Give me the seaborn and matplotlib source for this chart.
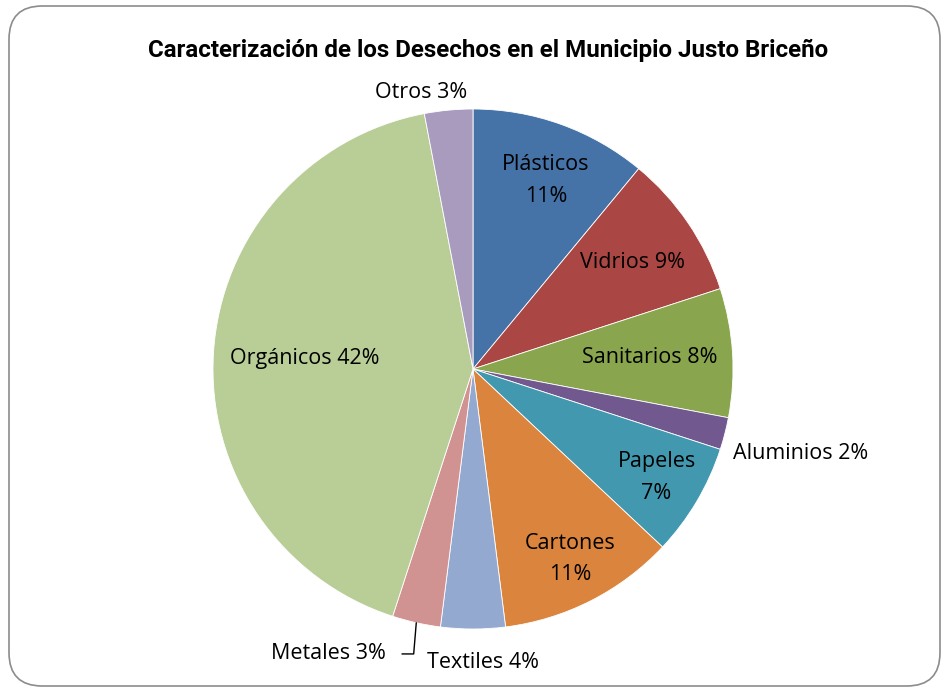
import numpy as np
import matplotlib
matplotlib.use('Agg')
import matplotlib.pyplot as plt
from matplotlib.patches import FancyBboxPatch
import seaborn as sns

# data
categories = ['Plásticos', 'Vidrios', 'Sanitarios', 'Aluminios', 'Papeles',
              'Cartones', 'Textiles', 'Metales', 'Orgánicos', 'Otros']
percent = [11, 9, 8, 2, 7, 11, 4, 3, 42, 3]
colors = ['#4572A7', '#AA4643', '#89A54E', '#71588F', '#4198AF',
          '#DB843D', '#93A9CF', '#D19392', '#B9CD96', '#A99BBD']

sns.set_theme(style='white')
plt.rcParams['font.family'] = ['Open Sans', 'DejaVu Sans']

fig = plt.figure(figsize=(9.5, 6.95), dpi=100)
fig.patch.set_facecolor('white')

# rounded frame
frame = FancyBboxPatch((9 / 950, 9 / 695), 931 / 950, 680 / 695,
                       boxstyle='round,pad=0,rounding_size=0.035',
                       transform=fig.transFigure, facecolor='none',
                       edgecolor='#8c8c8c', linewidth=1.2, mutation_aspect=950 / 695,
                       zorder=-1)
fig.patches.append(frame)

ax = fig.add_axes([213 / 950, 66 / 695, 520 / 950, 520 / 695])
ax.set_facecolor('none')
wedges, _ = ax.pie(percent, colors=sns.color_palette(colors), startangle=90,
                   counterclock=False, radius=1,
                   wedgeprops=dict(edgecolor='white', linewidth=0.6))
ax.set_xlim(-1, 1)
ax.set_ylim(-1, 1)
ax.set_aspect('equal')
ax.axis('off')

# label placement: radius factor, line break, horizontal offset
label_r = [0.77, 0.73, 0.68, 1.30, 0.82, 0.82, 1.13, 1.12, 0.65, 1.07]
two_line = [True, False, False, False, True, True, False, False, False, False]
dx = [0.02, 0.01, 0, 0, 0, 0, 0.04, -0.31, 0, -0.1]

for w, name, p, r, tl, off in zip(wedges, categories, percent, label_r, two_line, dx):
    ang = np.deg2rad((w.theta1 + w.theta2) / 2)
    x = r * np.cos(ang) + off
    y = r * np.sin(ang)
    txt = f'{name}\n{p}%' if tl else f'{name} {p}%'
    ax.text(x, y, txt, ha='center', va='center', fontsize=15.5, color='black',
            linespacing=1.65, clip_on=False)

# leader line for Metales
m = wedges[categories.index('Metales')]
ang = np.deg2rad((m.theta1 + m.theta2) / 2)
x0, y0 = np.cos(ang), np.sin(ang)
ax.plot([x0, x0 - 0.01, x0 - 0.055], [y0, y0 - 0.12, y0 - 0.12],
        color='black', linewidth=1, clip_on=False)

fig.text(488 / 950, 1 - 50 / 695, 'Caracterización de los Desechos en el Municipio Justo Briceño',
         ha='center', va='center', fontsize=17.4, fontweight='bold', color='black',
         family=['Roboto', 'DejaVu Sans'])

fig.savefig('out.png', dpi=100)
